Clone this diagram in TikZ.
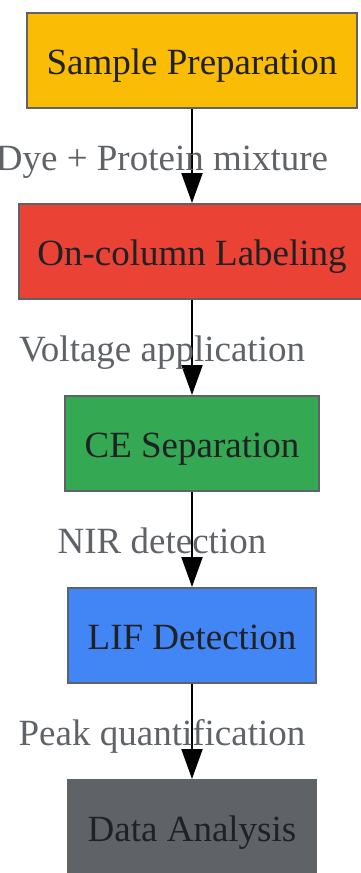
\documentclass[tikz,border=0pt]{standalone}
\usepackage{fontspec}
\setmainfont{Liberation Serif}
\usetikzlibrary{positioning}
\usetikzlibrary{arrows.meta}
\definecolor{prepyellow}{HTML}{FBBC05}
\definecolor{labelred}{HTML}{EA4335}
\definecolor{sepgreen}{HTML}{34A853}
\definecolor{lifblue}{HTML}{4285F4}
\definecolor{darkgray}{HTML}{5F6368}
\definecolor{textgray}{HTML}{202124}
\tikzset{%
  myedge/.style={-{Triangle[length=30pt,width=21pt]}, line width=2pt, black},
  mybox/.style={rectangle, draw=darkgray, line width=2pt, minimum height=95pt,
    text height=29pt, text depth=2pt,
    text=textgray, font=\fontsize{37}{44}\selectfont},
  mylabel/.style={text=darkgray, text height=30pt, text depth=2pt,
    font=\fontsize{37}{44}\selectfont}
}
\begin{document}
\begin{tikzpicture}[x=1pt,y=1pt]
  \useasboundingbox (0,0) rectangle (361,-873);

  \node[mybox, fill=prepyellow, minimum width=330pt] (prep) at (192,-60.5) {Sample Preparation};
  \node[mybox, fill=labelred, minimum width=346pt, below=94pt of prep] (oncol) {On-column Labeling};
  \node[mybox, fill=sepgreen, minimum width=254pt, below=95pt of oncol] (cesep) {CE Separation};
  \node[mybox, fill=lifblue, minimum width=248pt, below=95pt of cesep] (lif) {LIF Detection};
  \node[mybox, fill=darkgray, minimum width=248pt, below=95pt of lif] (data) {Data Analysis};

  \draw [myedge] (prep.south) -- (oncol.north) node [midway, xshift=-30pt, mylabel] {Dye + Protein mixture};
  \draw [myedge] (oncol.south) -- (cesep.north) node [midway, xshift=-30pt, mylabel] {Voltage application};
  \draw [myedge] (cesep.south) -- (lif.north) node [midway, xshift=-30pt, mylabel] {NIR detection};
  \draw [myedge] (lif.south) -- (data.north) node [midway, xshift=-30pt, mylabel] {Peak quantification};
\end{tikzpicture}
\end{document}
